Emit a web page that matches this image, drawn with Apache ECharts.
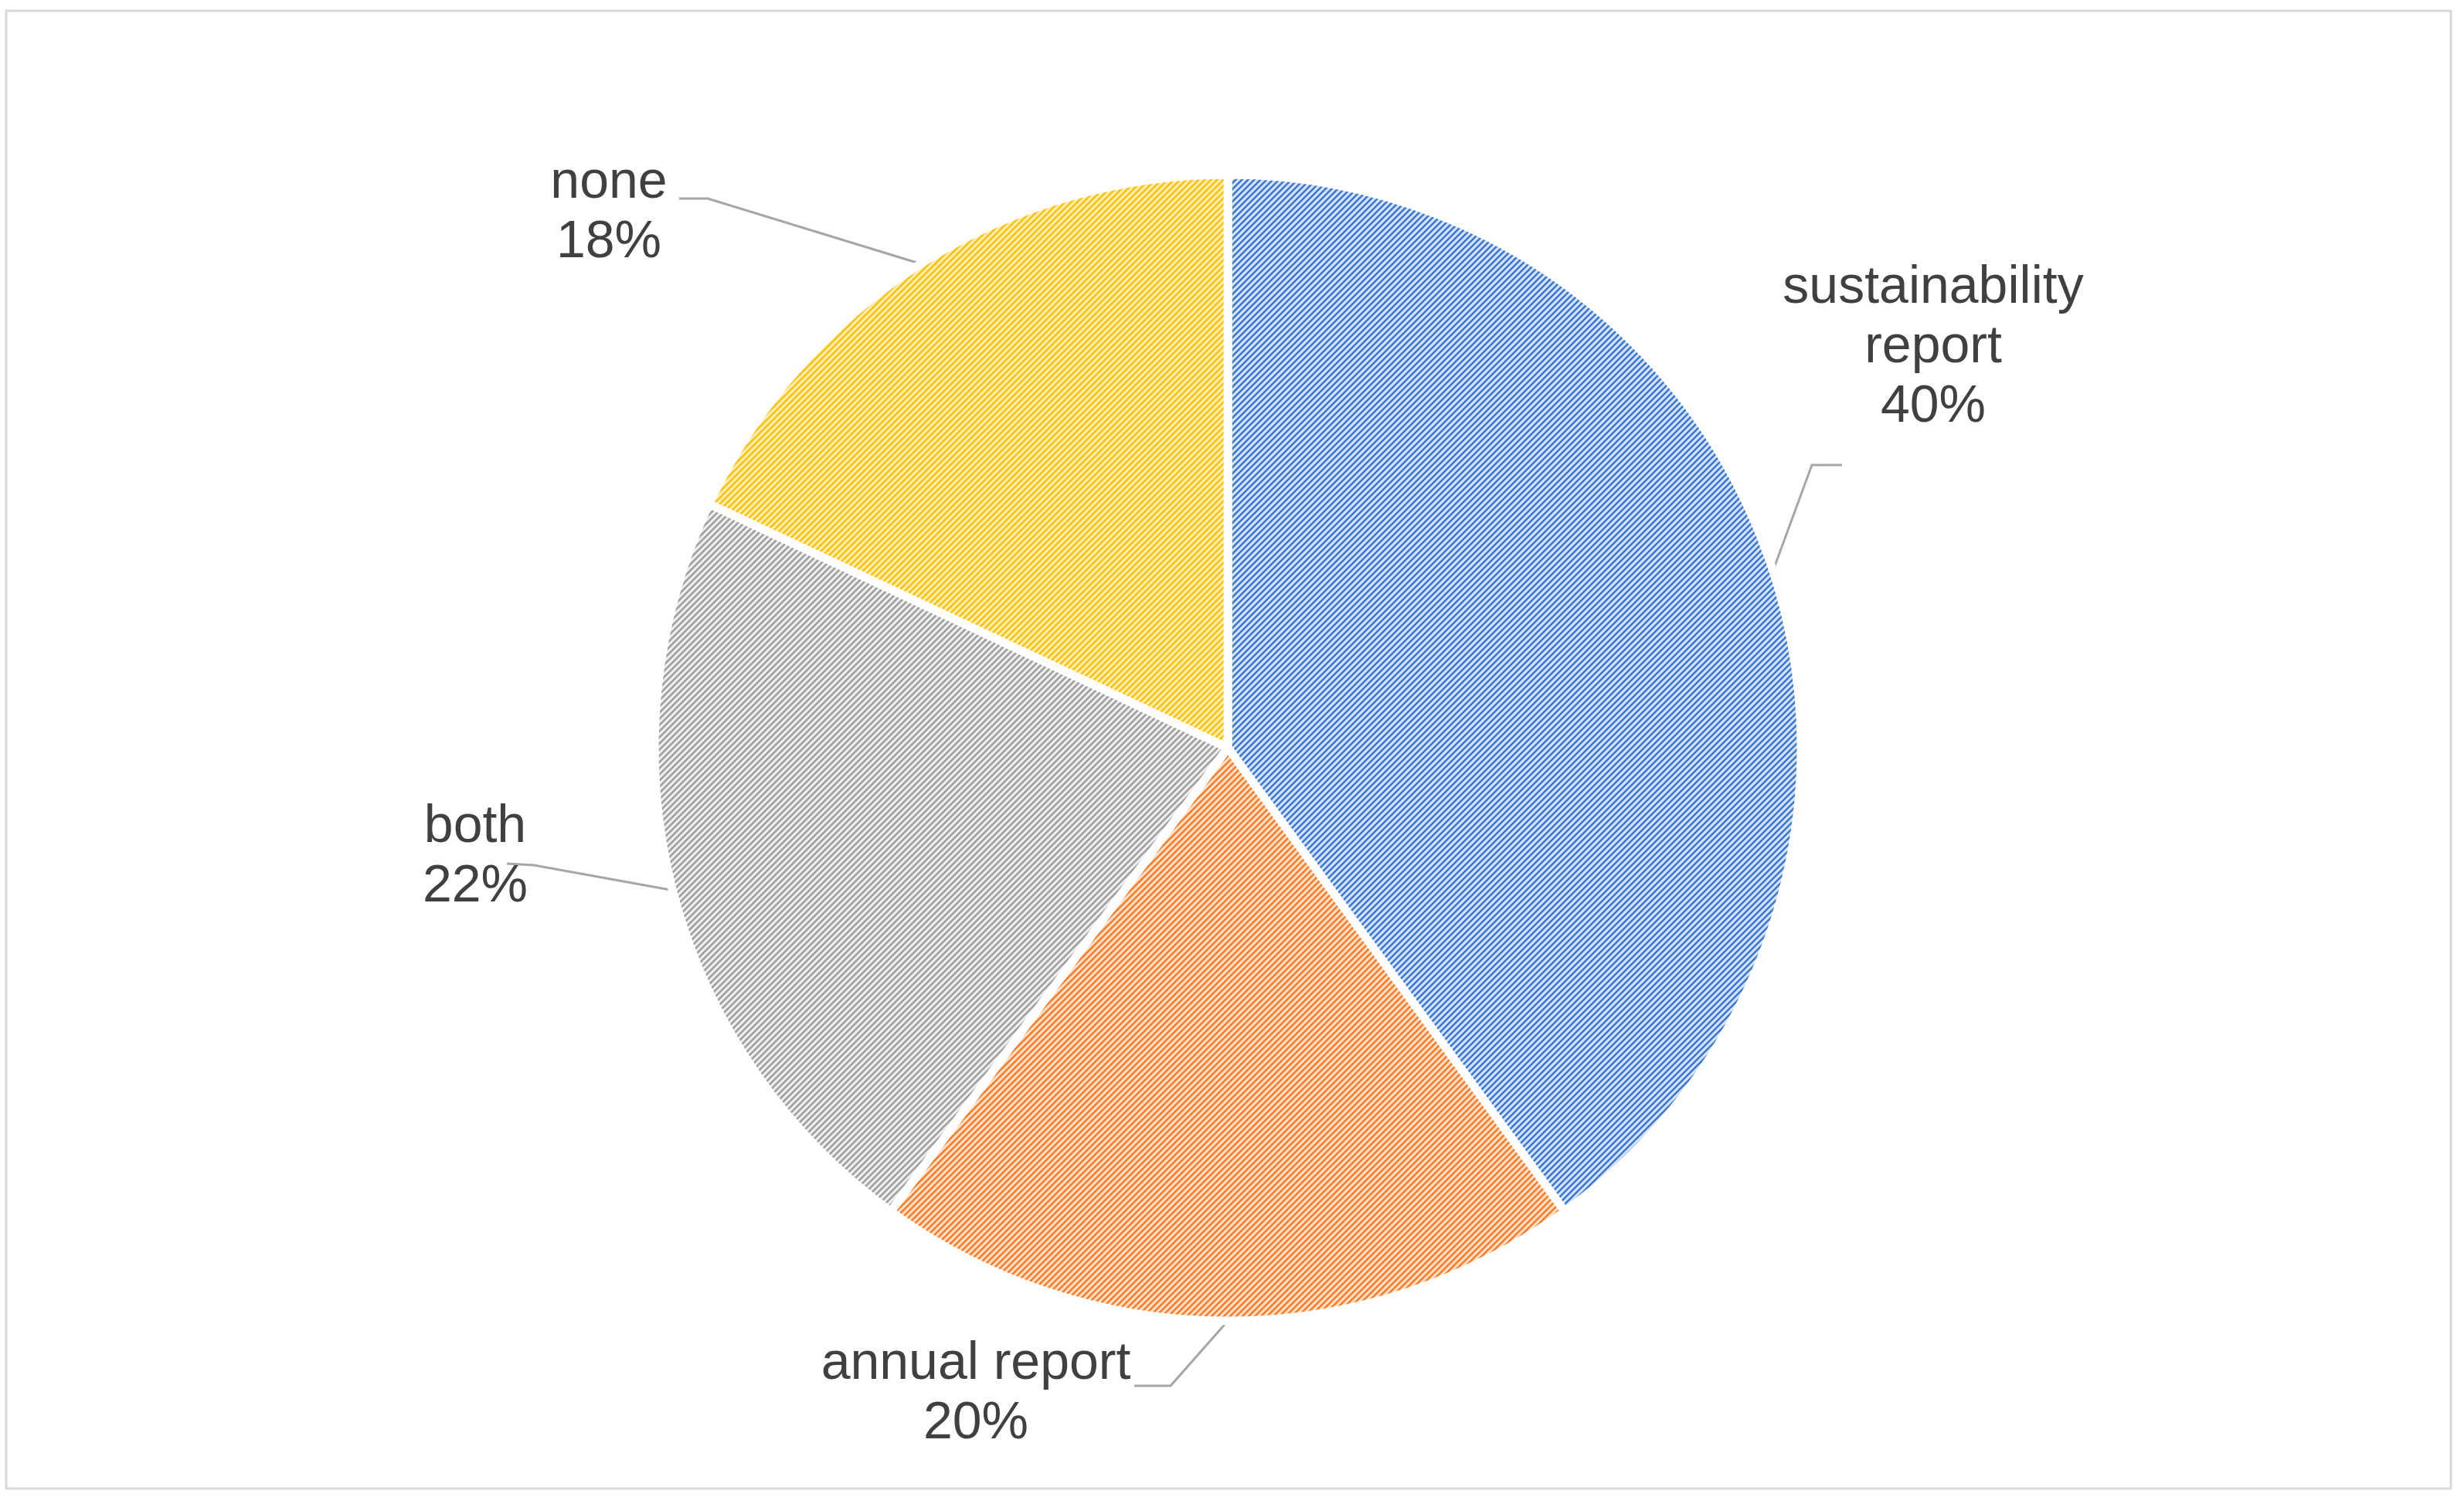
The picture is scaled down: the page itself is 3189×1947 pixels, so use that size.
<!DOCTYPE html>
<html style="height: 100%">
<head>
	<meta charset="UTF-8">
	<title></title>
	<script src="https://cdn.jsdelivr.net/npm/echarts@6/dist/echarts.min.js" type="text/javascript"></script>
</head>
<body style="height: 100%; margin: 0; background: #fff">
	<div id="container" style="width: 3189px; height: 1947px;"></div>
</body>
<script type="text/javascript">
	// data
	var categories = ['sustainability report', 'annual report', 'both', 'none'];
	var shares = [40, 20, 22, 18];

	var dom = document.getElementById('container');
	var myChart = echarts.init(dom);
	var W = myChart.getWidth(), H = myChart.getHeight();
	var sx = W / 3189, sy = H / 1947;

	// diagonal hatch fill, like the office pattern fill
	function hatch(fg, bg) {
		var c = document.createElement('canvas');
		c.width = 8; c.height = 8;
		var g = c.getContext('2d');
		g.fillStyle = bg;
		g.fillRect(0, 0, 8, 8);
		g.strokeStyle = fg;
		g.lineWidth = 2.6;
		g.beginPath();
		g.moveTo(-2, 10); g.lineTo(10, -2);
		g.moveTo(-2, 2); g.lineTo(2, -2);
		g.moveTo(6, 10); g.lineTo(10, 6);
		g.stroke();
		return { image: c, repeat: 'repeat' };
	}
	var fills = [
		hatch('#3a78d0', '#d6e2f6'),
		hatch('#ff7a1f', '#ffe1cc'),
		hatch('#9e9e9e', '#eeeeee'),
		hatch('#ffc000', '#ffedb8')
	];

	// where each label sits and how its leader bends (px at 3189x1947)
	var spots = [
		{ x: 2502, y: 450, bend: [2345, 602], end: [2384, 602] },
		{ x: 1263, y: 1805, bend: [1515, 1794], end: [1468, 1794] },
		{ x: 615, y: 1110, bend: [691, 1120], end: [656, 1118] },
		{ x: 788, y: 276, bend: [916, 257], end: [879, 257] }
	];

	var option = {
		animation: false,
		graphic: [{
			type: 'rect',
			silent: true,
			shape: { x: 8 * sx, y: 14 * sy, width: 3164 * sx, height: 1913 * sy },
			style: { fill: 'none', stroke: '#d9d9d9', lineWidth: 3 }
		}],
		series: [{
			type: 'pie',
			center: ['49.83%', '49.72%'],
			radius: 742 * sx,
			startAngle: 90,
			clockwise: true,
			avoidLabelOverlap: false,
			itemStyle: { borderColor: '#fff', borderWidth: 11 },
			emphasis: { disabled: true },
			label: {
				show: true,
				position: 'outside',
				color: '#404040',
				fontFamily: 'Liberation Sans, Arial, sans-serif',
				fontSize: 68,
				lineHeight: 77,
				align: 'center',
				formatter: function (p) {
					var name = p.dataIndex === 0 ? p.name.replace(' ', '\n') : p.name;
					return name + '\n' + p.value + '%';
				}
			},
			labelLine: {
				show: true,
				length: 40,
				length2: 30,
				lineStyle: { color: '#a6a6a6', width: 3 }
			},
			labelLayout: function (params) {
				var s = spots[params.dataIndex];
				var start = params.labelLinePoints && params.labelLinePoints[0];
				return {
					x: s.x * sx,
					y: s.y * sy,
					align: 'center',
					verticalAlign: 'middle',
					labelLinePoints: start ? [
						start,
						[s.bend[0] * sx, s.bend[1] * sy],
						[s.end[0] * sx, s.end[1] * sy]
					] : undefined
				};
			},
			data: categories.map(function (name, i) {
				return { name: name, value: shares[i], itemStyle: { color: fills[i] } };
			})
		}]
	};

	if (option && typeof option === 'object') {
		myChart.setOption(option, true);
	}
</script>
</html>
